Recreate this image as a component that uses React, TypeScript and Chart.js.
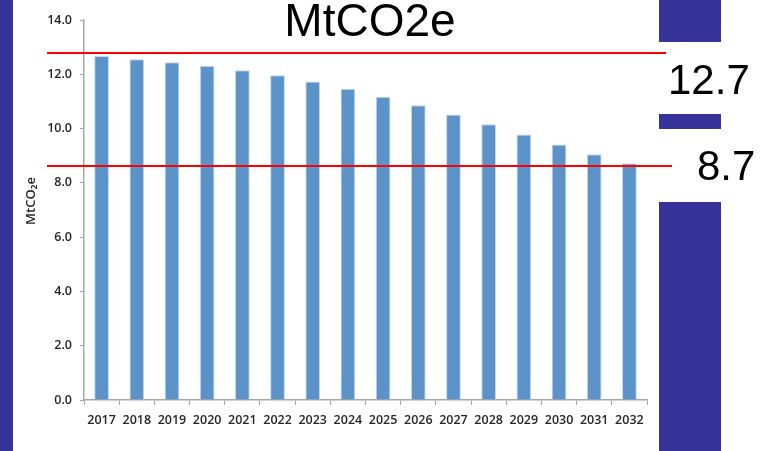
import React, { useEffect, useRef } from "react";
import { Chart, registerables } from "chart.js";

Chart.register(...registerables);

const categories = ["2017","2018","2019","2020","2021","2022","2023","2024","2025","2026","2027","2028","2029","2030","2031","2032"];
const emissions = [12.67,12.55,12.44,12.31,12.15,11.96,11.73,11.47,11.17,10.86,10.52,10.16,9.78,9.41,9.05,8.72];
const refLineValues = [12.78, 8.62];
const refLabels = ["12.7", "8.7"];
const titleText = "MtCO2e";
const yAxisTitle = "MtCO₂e";

const BLUE = "#36349A";

const overlayPlugin = {
  id: "overlay",
  beforeDraw(chart: any) {
    const ctx = chart.ctx;
    ctx.save();
    ctx.fillStyle = "#ffffff";
    ctx.fillRect(0, 0, chart.width, chart.height);
    ctx.fillStyle = BLUE;
    ctx.fillRect(0, 0, 13, 451);
    ctx.fillRect(659, 0, 62, 42);
    ctx.fillRect(659, 114, 62, 15);
    ctx.fillRect(659, 202, 62, 249);
    ctx.restore();
  },
  afterDraw(chart: any) {
    const ctx = chart.ctx;
    const y = chart.scales.y;
    ctx.save();
    ctx.strokeStyle = "#FF0000";
    ctx.lineWidth = 2;
    const ends = [666, 672];
    refLineValues.forEach((v, i) => {
      const py = y.getPixelForValue(v);
      ctx.beginPath();
      ctx.moveTo(47, py);
      ctx.lineTo(ends[i], py);
      ctx.stroke();
    });
    ctx.fillStyle = "#000000";
    ctx.textBaseline = "alphabetic";
    ctx.font = "46px 'Liberation Sans', Arial, sans-serif";
    ctx.textAlign = "center";
    ctx.fillText(titleText, 370, 36);
    ctx.font = "42px 'Liberation Sans', Arial, sans-serif";
    ctx.textAlign = "left";
    ctx.fillText(refLabels[0], 668, 94);
    ctx.fillText(refLabels[1], 697, 180);
    // y axis title
    ctx.save();
    ctx.translate(31, 201);
    ctx.rotate(-Math.PI / 2);
    ctx.font = "600 13px 'Open Sans', sans-serif";
    ctx.fillStyle = "#262626";
    ctx.textAlign = "center";
    ctx.textBaseline = "middle";
    ctx.fillText(yAxisTitle, 0, 0);
    ctx.restore();
    ctx.restore();
  },
};

export default function App() {
  const ref = useRef<HTMLCanvasElement>(null);
  useEffect(() => {
    document.body.style.margin = "0";
    const chart = new Chart(ref.current!, {
      type: "bar",
      data: {
        labels: categories,
        datasets: [
          {
            data: emissions,
            backgroundColor: "#5B93C9",
            borderColor: "#C6D9EE",
            borderWidth: 1,
            categoryPercentage: 1,
            barPercentage: 0.42,
          },
        ],
      },
      options: {
        responsive: false,
        animation: false,
        devicePixelRatio: 1,
        layout: { padding: { left: 16, right: 113, top: 20, bottom: 21 } },
        plugins: { legend: { display: false }, tooltip: { enabled: false } },
        scales: {
          x: {
            grid: { display: true, drawOnChartArea: false, offset: true, tickLength: 5, color: "#A6A6A6" },
            border: { color: "#A6A6A6", width: 1.5 },
            ticks: { color: "#262626", font: { family: "'Open Sans'", size: 12.5, weight: "600" }, padding: 8, maxRotation: 0, autoSkip: false },
            afterFit(s: any) { s.height = 30; },
          },
          y: {
            min: 0,
            max: 14,
            grid: { display: true, drawOnChartArea: false, tickLength: 4, color: "#A6A6A6" },
            border: { color: "#A6A6A6", width: 1.5 },
            ticks: {
              stepSize: 2,
              color: "#262626",
              font: { family: "'Open Sans'", size: 12.5, weight: "600" },
              padding: 8,
              callback: (v: any) => Number(v).toFixed(1),
            },
            afterFit(s: any) { s.width = 68; },
          },
        },
      },
      plugins: [overlayPlugin],
    });
    return () => chart.destroy();
  }, []);
  return (
    <div style={{ width: 760, height: 451, position: "relative" }}>
      <canvas ref={ref} width={760} height={451} style={{ width: 760, height: 451, display: "block" }} />
    </div>
  );
}
